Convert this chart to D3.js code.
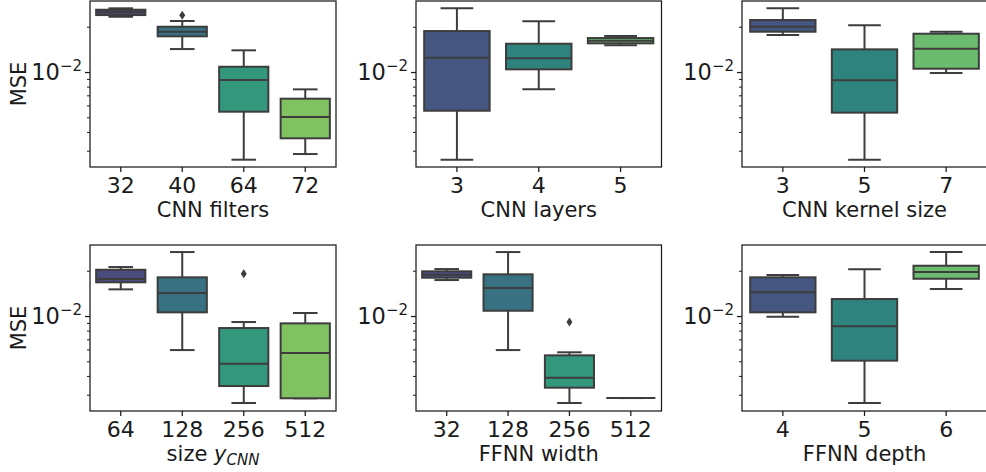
<!DOCTYPE html>
<html>
<head>
<meta charset="utf-8">
<script src="https://cdn.jsdelivr.net/npm/d3@7"></script>
<style>
  body { margin: 0; background: #fff; }
  svg { display: block; }
  text { font-family: "DejaVu Sans", sans-serif; fill: #1a1a1a; }
</style>
</head>
<body>
<script>
// ---------- DATA (box stats: [lowerWhisker, q1, median, q3, upperWhisker]) ----------
const filtersCats = ["32", "40", "64", "72"];
const filtersStats = [
  [0.02330, 0.02391, 0.02493, 0.02594, 0.02651],
  [0.01421, 0.01727, 0.01853, 0.02000, 0.02183],
  [0.002614, 0.00545, 0.00885, 0.01084, 0.01394],
  [0.002851, 0.003626, 0.00502, 0.00665, 0.00767]
];
const filtersOutliers = [[], [0.02380], [], []];

const layersCats = ["3", "4", "5"];
const layersStats = [
  [0.002614, 0.00553, 0.01245, 0.01872, 0.02651],
  [0.00767, 0.01042, 0.01233, 0.01542, 0.02173],
  [0.01504, 0.01551, 0.01614, 0.01682, 0.01734]
];
const layersOutliers = [[], [], []];

const kernelCats = ["3", "5", "7"];
const kernelStats = [
  [0.01761, 0.01853, 0.02000, 0.02216, 0.02651],
  [0.002614, 0.00537, 0.00881, 0.01415, 0.02043],
  [0.00985, 0.01052, 0.01428, 0.01797, 0.01853]
];
const kernelOutliers = [[], [], []];

const ySizeCats = ["64", "128", "256", "512"];
const ySizeStats = [
  [0.01504, 0.01675, 0.01761, 0.02030, 0.02116],
  [0.00594, 0.01058, 0.01421, 0.01808, 0.02662],
  [0.002642, 0.003426, 0.00482, 0.00832, 0.00912],
  [0.00284, 0.00284, 0.00568, 0.00894, 0.01047]
];
const ySizeOutliers = [[], [], [0.01910], []];

const widthCats = ["32", "128", "256", "512"];
const widthStats = [
  [0.01734, 0.01797, 0.01881, 0.01982, 0.02052],
  [0.00594, 0.01084, 0.01535, 0.01893, 0.02662],
  [0.002642, 0.00334, 0.00389, 0.00548, 0.00574],
  [0.002851, 0.002851, 0.002851, 0.002851, 0.002851]
];
const widthOutliers = [[], [], [0.00912], []];

const depthCats = ["4", "5", "6"];
const depthStats = [
  [0.00989, 0.01058, 0.01437, 0.01808, 0.01872],
  [0.002642, 0.00505, 0.00854, 0.01297, 0.02043],
  [0.01511, 0.01769, 0.01961, 0.02159, 0.02662]
];
const depthOutliers = [[], [], []];

const yDomain = [0.002338, 0.02965];
const yMajorTicks = [0.01];
const yMinorTicks = [0.003, 0.004, 0.005, 0.006, 0.007, 0.008, 0.009, 0.02];
const yLabel = "MSE";

// ---------- LAYOUT ----------
const W = 986, H = 472;
const rowTop = [1, 245];
const plotH = 166;
const cols = [[90, 336], [416, 661.5], [742, 987]];
const FS = 21;       // axis labels
const TFS = 22;      // tick labels
const gray = "#3d3d3d";

const panels = [
  { r: 0, c: 0, cats: filtersCats, stats: filtersStats, out: filtersOutliers, xlabel: [["CNN filters"]] },
  { r: 0, c: 1, cats: layersCats, stats: layersStats, out: layersOutliers, xlabel: [["CNN layers"]] },
  { r: 0, c: 2, cats: kernelCats, stats: kernelStats, out: kernelOutliers, xlabel: [["CNN kernel size"]] },
  { r: 1, c: 0, cats: ySizeCats, stats: ySizeStats, out: ySizeOutliers, xlabel: [["size "], ["y", "it"], ["CNN", "sub"]] },
  { r: 1, c: 1, cats: widthCats, stats: widthStats, out: widthOutliers, xlabel: [["FFNN width"]] },
  { r: 1, c: 2, cats: depthCats, stats: depthStats, out: depthOutliers, xlabel: [["FFNN depth"]] }
];

function palette(n) {
  const pos = d3.range(n).map(i => (i + 1) / (n + 1));
  return pos.map(p => {
    const h = d3.hsl(d3.interpolateViridis(p));
    h.s *= 0.75;
    return h.formatHex();
  });
}

const svg = d3.select("body").append("svg").attr("width", W).attr("height", H);
svg.append("rect").attr("width", W).attr("height", H).attr("fill", "#fff");

panels.forEach(p => {
  const top = rowTop[p.r], bottom = top + plotH;
  const [left, right] = cols[p.c];
  const x = d3.scaleBand().domain(p.cats).range([left, right]).paddingInner(0.2).paddingOuter(0.1);
  const y = d3.scaleLog().domain(yDomain).range([bottom, top]);
  const colors = palette(p.cats.length);
  const g = svg.append("g");

  const bw = x.bandwidth();
  const capW = bw * 0.5;

  p.cats.forEach((cat, i) => {
    const s = p.stats[i];
    const cx = x(cat) + bw / 2;
    const bg = g.append("g");
    bg.append("line").attr("x1", cx).attr("x2", cx).attr("y1", y(s[3])).attr("y2", y(s[4]))
      .attr("stroke", gray).attr("stroke-width", 2);
    bg.append("line").attr("x1", cx).attr("x2", cx).attr("y1", y(s[1])).attr("y2", y(s[0]))
      .attr("stroke", gray).attr("stroke-width", 2);
    [s[0], s[4]].forEach(v => {
      bg.append("line").attr("x1", cx - capW / 2).attr("x2", cx + capW / 2)
        .attr("y1", y(v)).attr("y2", y(v)).attr("stroke", gray).attr("stroke-width", 2);
    });
    bg.append("rect").attr("x", x(cat)).attr("width", bw)
      .attr("y", y(s[3])).attr("height", Math.max(0, y(s[1]) - y(s[3])))
      .attr("fill", colors[i]).attr("stroke", gray).attr("stroke-width", 2);
    bg.append("line").attr("x1", x(cat)).attr("x2", x(cat) + bw)
      .attr("y1", y(s[2])).attr("y2", y(s[2])).attr("stroke", gray).attr("stroke-width", 2);
    p.out[i].forEach(v => {
      const yy = y(v);
      bg.append("path")
        .attr("d", `M${cx},${yy - 4.5}L${cx + 3},${yy}L${cx},${yy + 4.5}L${cx - 3},${yy}Z`)
        .attr("fill", gray);
    });
  });

  g.append("rect").attr("x", left).attr("y", top).attr("width", right - left).attr("height", plotH)
    .attr("fill", "none").attr("stroke", "#1a1a1a").attr("stroke-width", 1.25);

  const xAx = g.append("g").attr("transform", `translate(0,${bottom})`)
    .call(d3.axisBottom(x).tickSize(5).tickPadding(5).tickSizeOuter(0));
  xAx.select(".domain").remove();
  xAx.selectAll("line").attr("stroke", "#1a1a1a").attr("stroke-width", 1.25);
  xAx.selectAll("text").style("font-size", TFS + "px").style("font-family", "DejaVu Sans").attr("fill", "#1a1a1a");

  const yMin = g.append("g").attr("transform", `translate(${left},0)`)
    .call(d3.axisLeft(y).tickValues(yMinorTicks).tickSize(3).tickFormat(""));
  yMin.select(".domain").remove();
  yMin.selectAll("line").attr("stroke", "#1a1a1a").attr("stroke-width", 1);

  const yMaj = g.append("g").attr("transform", `translate(${left},0)`)
    .call(d3.axisLeft(y).tickValues(yMajorTicks).tickSize(5).tickPadding(3).tickFormat(""));
  yMaj.select(".domain").remove();
  yMaj.selectAll("line").attr("stroke", "#1a1a1a").attr("stroke-width", 1.25);
  yMaj.selectAll(".tick").each(function(d) {
    const t = d3.select(this).select("text");
    const e = Math.round(Math.log10(d));
    t.attr("x", -8).attr("dy", "0.34em").attr("text-anchor", "end")
      .style("font-size", "22.5px").attr("fill", "#1a1a1a");
    t.text(null);
    t.append("tspan").text("10");
    t.append("tspan").attr("dy", -9).style("font-size", "15px").text("\u2212" + Math.abs(e));
  });

  const xl = g.append("text").attr("x", (left + right) / 2).attr("y", bottom + 50.3)
    .attr("text-anchor", "middle").style("font-size", FS + "px");
  p.xlabel.forEach(part => {
    const ts = xl.append("tspan").text(part[0]);
    if (part[1] === "it") ts.style("font-style", "italic");
    if (part[1] === "sub") ts.style("font-style", "italic").style("font-size", "15px").attr("dy", 4);
  });

  if (p.c === 0) {
    g.append("text").attr("transform", `translate(26,${(top + bottom) / 2}) rotate(-90)`)
      .attr("text-anchor", "middle").style("font-size", FS + "px").text(yLabel);
  }
});
</script>
</body>
</html>
